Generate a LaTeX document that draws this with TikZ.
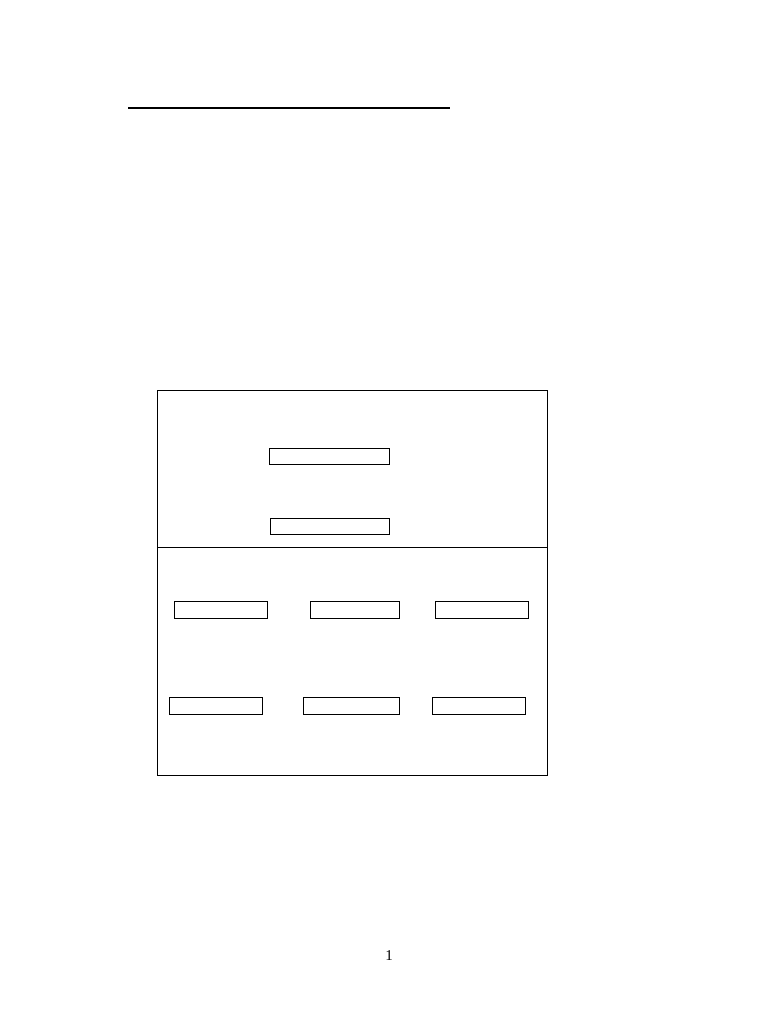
\documentclass[tikz,border=0pt]{standalone}
\usepackage{fontspec}
\setmainfont{Liberation Serif}
\begin{document}
\begin{tikzpicture}[x=1pt,y=-1pt,
  field/.style={draw,line width=1pt,inner sep=0pt,anchor=north west},
  frame/.style={draw,line width=1pt,inner sep=0pt,anchor=north west}]
\useasboundingbox (0,0) rectangle (768,1024);
\fill[white] (0,0) rectangle (768,1024);
\coordinate (la) at (128,108);
\coordinate (lb) at (450,108);
\draw[line width=2pt] (la) -- (lb);
\node[frame,minimum width=390pt,minimum height=157pt] (top) at (157,390) {};
\node[frame,minimum width=390pt,minimum height=228pt] (bottom) at (157,547) {};
\node[field,minimum width=120pt,minimum height=16pt] (t1) at (269,448) {};
\node[field,minimum width=119pt,minimum height=16pt] (t2) at (270,518) {};
\node[field,minimum width=93pt,minimum height=17pt] (a1) at (174,601) {};
\node[field,minimum width=89pt,minimum height=17pt] (a2) at (310,601) {};
\node[field,minimum width=93pt,minimum height=17pt] (a3) at (435,601) {};
\node[field,minimum width=93pt,minimum height=17pt] (b1) at (169,697) {};
\node[field,minimum width=96pt,minimum height=17pt] (b2) at (303,697) {};
\node[field,minimum width=93pt,minimum height=17pt] (b3) at (432,697) {};
\node[font=\fontsize{15}{18}\selectfont,inner sep=0pt] (pg) at (389,956) {1};
\end{tikzpicture}
\end{document}
